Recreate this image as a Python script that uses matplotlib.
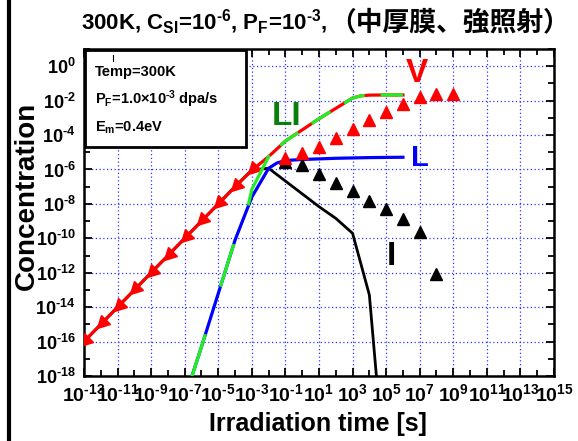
import numpy as np
import matplotlib
matplotlib.use('Agg')
import matplotlib.pyplot as plt
from matplotlib.markers import MarkerStyle
from matplotlib.transforms import Affine2D
from matplotlib.lines import Line2D
from matplotlib.patches import Rectangle
from matplotlib.ticker import FixedLocator, NullFormatter

plt.rcParams['font.family'] = ['Liberation Sans', 'DejaVu Sans']
plt.rcParams['font.weight'] = 'bold'
plt.rcParams['mathtext.fontset'] = 'custom'
plt.rcParams['mathtext.rm'] = 'Liberation Sans:bold'
plt.rcParams['mathtext.it'] = 'Liberation Sans:bold'
plt.rcParams['mathtext.bf'] = 'Liberation Sans:bold'
plt.rcParams['mathtext.default'] = 'regular'

HY = '\u2010'  # short hyphen used as minus sign in the reference

# ---------------- data (log10 values) ----------------
# V (vacancy) curve
v_logt = [-13, -12, -11, -10, -9, -8, -7, -6, -5, -4, -3, -2, -1, 0, 1, 2, 3, 3.5, 4, 5, 6]
v_logc = [-16, -15, -14, -13, -12, -11, -10, -9, -8, -7.0, -6.05, -5.25, -4.35, -3.7, -3.05, -2.45, -1.85, -1.72, -1.68, -1.67, -1.67]
# markers placed on the V curve
vm_logt = [-13, -12, -11, -10, -9, -8, -7, -6, -5, -4, -3]
vm_logc = [-16, -15, -14, -13, -12, -11, -10, -9, -8, -7.0, -6.05]
# L (loop) curve
l_logt = [-7, -6, -5, -4, -3, -2, -1.5, -1, 0, 2, 4, 6]
l_logc = [-19.3, -16.3, -13.2, -10.1, -7.6, -5.93, -5.62, -5.48, -5.42, -5.35, -5.31, -5.29]
# LI curve: lower branch (on L), rising link, upper branch (on V)
li_low_logt = [-7, -6, -5, -4, -3.2]
li_low_logc = [-19.3, -16.3, -13.2, -10.1, -8.0]
li_mid_logt = [-3.2, -3, -2]
li_mid_logc = [-8.0, -7.15, -5.25]
li_up_logt = [-2, -1, 0, 1, 2, 3, 3.5, 4, 5, 6]
li_up_logc = [-5.25, -4.35, -3.7, -3.05, -2.45, -1.85, -1.72, -1.68, -1.67, -1.67]
# I (interstitial) curve
i_logt = [-13, -12, -11, -10, -9, -8, -7, -6, -5, -4, -3, -2, 1, 2, 3, 4, 4.5]
i_logc = [-16, -15, -14, -13, -12, -11, -10, -9, -8, -7.0, -6.03, -5.93, -8.16, -8.84, -9.71, -13.29, -18.9]
# V points (red triangles)
vp_logt = [-1, 0, 1, 2, 3, 4, 5, 6, 7, 8, 9]
vp_logc = [-5.35, -5.06, -4.68, -4.19, -3.65, -3.13, -2.64, -2.21, -1.81, -1.61, -1.61]
# I points (black triangles)
ip_logt = [-1, 0, 1, 2, 3, 4, 5, 6, 7, 8]
ip_logc = [-5.55, -5.74, -6.26, -6.77, -7.27, -7.81, -8.31, -8.88, -9.61, -12.09]

x_major_exp = list(range(-13, 16, 2))
x_minor_exp = list(range(-12, 15, 2))
y_major_exp = list(range(-18, 1, 2))
y_minor_exp = list(range(-17, 2, 2))
x_tick_labels = [r'$\mathregular{10^{%s}}$' % str(e).replace('-', HY) for e in x_major_exp]
y_tick_labels = [r'$\mathregular{10^{%s}}$' % str(e).replace('-', HY) for e in y_major_exp]

curve_labels = ['V', 'LI', 'L', 'I']
curve_label_pos_logt = [6.83, -0.91, 7.0, 5.34]
curve_label_pos_logc = [-0.45, -2.95, -5.33, -11.03]

def p(a):
    return 10.0 ** np.asarray(a, dtype=float)

W, H = 578, 441
fig = plt.figure(figsize=(W / 100, H / 100), dpi=100)
ax = fig.add_axes([84 / W, 1 - 376 / H, (554 - 84) / W, (376 - 49) / H])
ax.set_xscale('log')
ax.set_yscale('log')
ax.set_xlim(1e-13, 1e15)
ax.set_ylim(1e-18, 1e1)

# curves
ax.plot(p(i_logt), p(i_logc), color='black', lw=2.0, zorder=2, solid_joinstyle='miter')
ax.plot(p(l_logt), p(l_logc), color='#0000ff', lw=2.3, zorder=3)
ax.plot(p(v_logt), p(v_logc), color='#ff0000', lw=2.3, zorder=4)
arrow = MarkerStyle('^', transform=Affine2D().rotate_deg(135))
ax.plot(p(vm_logt), p(vm_logc), ls='none', marker=arrow, ms=9, color='#ff0000', zorder=4)
green = '#22ee22'
ax.plot(p(li_low_logt), p(li_low_logc), color=green, lw=2.3, ls=(22.5, (14, 15.6)), zorder=5)
ax.plot(p(li_mid_logt), p(li_mid_logc), color=green, lw=2.3, zorder=5)
ax.plot(p(li_up_logt), p(li_up_logc), color=green, lw=2.3, ls=(7, (7, 5)), zorder=5)

ax.plot(p(ip_logt), p(ip_logc), ls='none', marker='^', ms=8.5, color='black', zorder=6)
ax.plot(p(vp_logt), p(vp_logc), ls='none', marker='^', ms=9, color='#ff0000', zorder=6)

label_colors = ['#ff0000', '#0a800a', '#0000ff', 'black']
label_sizes = [24, 24, 21, 24]
for txt, lx, ly, c, s in zip(curve_labels, curve_label_pos_logt, curve_label_pos_logc, label_colors, label_sizes):
    ax.text(10.0 ** lx, 10.0 ** ly, txt, color=c, fontsize=s, fontweight='bold',
            ha='center', va='center', zorder=7)

# ticks & grid
ax.xaxis.set_major_locator(FixedLocator(p(x_major_exp)))
ax.xaxis.set_minor_locator(FixedLocator(p(x_minor_exp)))
ax.yaxis.set_major_locator(FixedLocator(p(y_major_exp)))
ax.yaxis.set_minor_locator(FixedLocator(p(y_minor_exp)))
ax.xaxis.set_minor_formatter(NullFormatter())
ax.yaxis.set_minor_formatter(NullFormatter())
ax.set_xticklabels(x_tick_labels)
ax.set_yticklabels(y_tick_labels)
ax.tick_params(which='both', direction='in', top=True, right=True, width=1.3, color='black')
ax.tick_params(which='major', length=6)
ax.tick_params(which='minor', length=4)
ax.tick_params(axis='x', labelsize=14, pad=5)
ax.tick_params(axis='y', labelsize=13, pad=6)
for lab in ax.get_xticklabels() + ax.get_yticklabels():
    lab.set_fontweight('bold')
ax.grid(which='major', color='#3030ff', ls=(0, (1, 2)), lw=0.9, zorder=1)
ax.set_axisbelow(True)
for sp in ax.spines.values():
    sp.set_linewidth(1.8)

# info box
box = Rectangle((1 / 470, (376 - 147) / 327), 161 / 470, 97 / 327, transform=ax.transAxes,
                facecolor='white', edgecolor='black', lw=2.0, zorder=8)
ax.add_patch(box)
info_lines = ['Temp=300K',
              r'P$_{\mathregular{F}}$=1.0$\times$10$^{\mathregular{%s3}}$ dpa/s' % HY,
              r'E$_{\mathregular{m}}$=0.4eV']
info_baselines = [76, 104, 132]
for t, yb in zip(info_lines, info_baselines):
    fig.text(95 / W, 1 - yb / H, t, fontsize=10.5, fontweight='bold', ha='left', va='baseline', zorder=9)
fig.add_artist(Line2D([113 / W, 113 / W], [1 - 55 / H, 1 - 61 / H], color='black', lw=0.8))

# axis labels
fig.text(318 / W, 1 - 424 / H, 'Irradiation time [s]', fontsize=18, fontweight='bold', ha='center', va='center')
fig.text(27 / W, 1 - 196 / H, 'Concentration', fontsize=20, fontweight='bold', ha='center', va='center', rotation=90)

# title
fig.text(327 / W, 1 - 22 / H,
         r'300K, C$_{\mathregular{SI}}$=10$^{\mathregular{%s6}}$, P$_{\mathregular{F}}$=10$^{\mathregular{%s3}}$,' % (HY, HY),
         fontsize=16, fontweight='bold', ha='right', va='center')
fig.text(329 / W, 1 - 22 / H, '（中厚膜、強照射）', fontsize=19.3, fontweight='bold',
         family=['Noto Sans CJK JP', 'DejaVu Sans'], ha='left', va='center')

# left border line
fig.add_artist(Line2D([8.5 / W, 8.5 / W], [0, 1], color='black', lw=3))

fig.savefig('out.png', dpi=100)
